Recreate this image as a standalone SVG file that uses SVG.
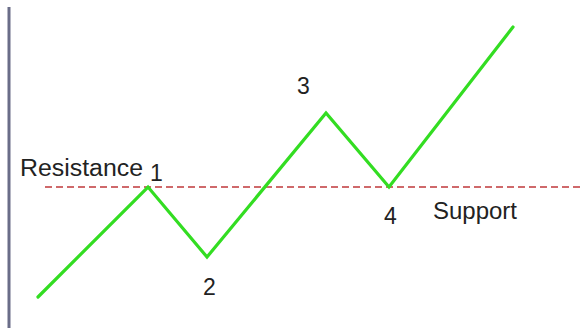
<svg xmlns="http://www.w3.org/2000/svg" width="580" height="328" viewBox="0 0 580 328">
<style>
.lbl{font-family:"Liberation Sans",Arial,sans-serif;font-size:23px;fill:#222}
.axis{stroke:#6a6d88;stroke-width:3}
.level{stroke:#c0393b;stroke-width:1.5;stroke-dasharray:7 4;fill:none}
.price{stroke:#33dd22;stroke-width:3.2;fill:none;stroke-linejoin:miter;stroke-linecap:round}
</style>
<rect width="580" height="328" fill="#ffffff"/>
<g id="connectors">
<line class="axis" x1="9" y1="7" x2="9" y2="328"/>
<line class="level" x1="45" y1="187" x2="580" y2="187"/>
<polyline class="price" points="38,297 148,187 207,257 326,113 389,187 513,27"/>
</g>
<g id="resistance"><text class="lbl" x="20" y="176" textLength="123" lengthAdjust="spacingAndGlyphs">Resistance</text></g>
<g id="support"><text class="lbl" x="433" y="219" textLength="84" lengthAdjust="spacingAndGlyphs">Support</text></g>
<g id="p1"><text class="lbl" x="150" y="181">1</text></g>
<g id="p2"><text class="lbl" x="203" y="295">2</text></g>
<g id="p3"><text class="lbl" x="297" y="94">3</text></g>
<g id="p4"><text class="lbl" x="384" y="224">4</text></g>
</svg>
